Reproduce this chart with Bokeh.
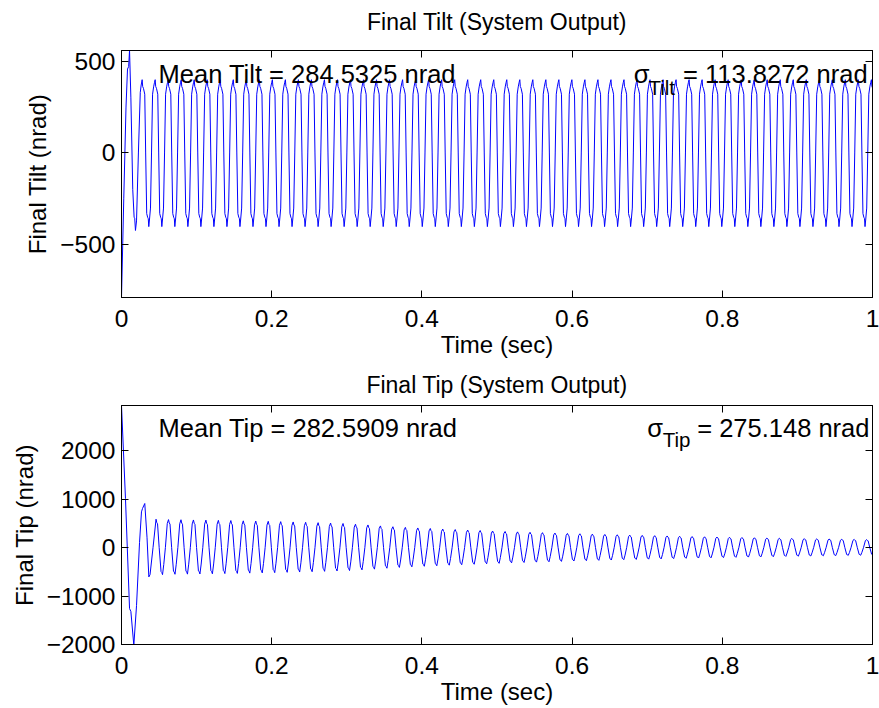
import numpy as np
from bokeh.plotting import figure
from bokeh.layouts import column
from bokeh.models import FixedTicker, CustomJSTickFormatter, LinearAxis, Range1d
from bokeh.core.properties import value
from bokeh.embed import file_html
from bokeh.resources import INLINE

FONT = "Liberation Sans"

# ---------------- data ----------------
x_ticks = [0, 0.2, 0.4, 0.6, 0.8, 1.0]
time_range = (0.0, 1.0)

# Final Tilt
tilt_y_ticks = [-500, 0, 500]
tilt_y_range = (-787, 558)
tilt_transient_t = [0.0, 0.003, 0.006, 0.008, 0.0095, 0.0107, 0.0125, 0.0150, 0.0168, 0.0176, 0.0186, 0.0200, 0.0225, 0.0250, 0.0262]
tilt_transient_v = [-787, -250, 250, 457, 470, 558, 300, -200, -350, -355, -422, -370, 0, 330, 370]
tilt_first_peak = 0.0275
tilt_period = 0.01734
tilt_cycles = 57
tilt_cycle_phase = [0.00, 0.04, 0.10, 0.20, 0.27, 0.35, 0.42, 0.47, 0.51, 0.56, 0.64, 0.72, 0.80, 0.88, 0.95]
tilt_cycle_value = [399, 362, 352, 320, 0, -330, -350, -358, -401, -365, -300, 0, 320, 360, 385]
tilt_mean_text = "Mean Tilt = 284.5325 nrad"
tilt_sigma_sub = "Tilt"
tilt_sigma_rest = "= 113.8272 nrad"

# Final Tip
tip_y_ticks = [-2000, -1000, 0, 1000, 2000]
tip_y_range = (-2000, 2928)
tip_transient_t = [0.0, 0.0053, 0.0107, 0.0125, 0.0164, 0.0200, 0.0240, 0.0266, 0.0280, 0.0310, 0.0340, 0.0364, 0.0380, 0.0420]
tip_transient_v = [2928, 1010, -1258, -1320, -2015, -1200, 100, 734, 805, 907, 200, -606, -560, 0]
tip_first_peak = 0.046
tip_period = 0.0166
tip_cycle_phase = [0.00, 0.06, 0.12, 0.25, 0.40, 0.46, 0.52, 0.62, 0.75, 0.90]
tip_cycle_shape = [1.00, 0.88, 0.84, 0.0, -0.85, -0.88, -0.96, -0.60, 0.0, 0.85]
tip_cycle_peaks = [583, 575, 572, 568, 565, 560, 556, 550, 545, 540,
                   533, 527, 520, 512, 504, 495, 480, 465, 445, 428,
                   415, 403, 392, 380, 370, 360, 350, 340, 330, 322,
                   314, 306, 298, 290, 283, 276, 269, 262, 256, 250,
                   244, 238, 232, 226, 221, 216, 211, 206, 201, 196,
                   191, 187, 183, 179, 175, 171, 167, 163]
tip_mean_text = "Mean Tip = 282.5909 nrad"
tip_sigma_sub = "Tip"
tip_sigma_rest = "= 275.148 nrad"

# annotation anchor positions (data coordinates)
mean_text_x = 0.0493
tilt_text_y = 428
tip_text_y = 2454
tilt_sigma_x = 0.682
tip_sigma_x = 0.700


def build_series(trans_t, trans_v, first_peak, period, phases, shape, amps):
    ts = list(trans_t)
    vs = list(trans_v)
    for k, a in enumerate(amps):
        t0 = first_peak + k * period
        for ph, s in zip(phases, shape):
            ts.append(t0 + ph * period)
            vs.append(a * s)
    return ts, vs


tilt_t, tilt_v = build_series(tilt_transient_t, tilt_transient_v, tilt_first_peak, tilt_period,
                              tilt_cycle_phase, tilt_cycle_value, [1.0] * tilt_cycles)
tip_t, tip_v = build_series(tip_transient_t, tip_transient_v, tip_first_peak, tip_period,
                            tip_cycle_phase, tip_cycle_shape, tip_cycle_peaks)

x_code = "var s = tick.toFixed(1); if (s.endsWith('.0')) { s = s.slice(0, -2); } return s;"
y_code = "return (tick < 0 ? '\\u2212' : '') + Math.abs(tick).toFixed(0);"
empty_code = "return '';"


def style_axis(ax, ticks, fmt_code, labels=True):
    ax.ticker = FixedTicker(ticks=ticks)
    ax.formatter = CustomJSTickFormatter(code=fmt_code)
    ax.major_tick_in = 7
    ax.major_tick_out = 0
    ax.major_tick_line_color = "black"
    ax.minor_tick_line_color = None
    ax.axis_line_color = "black"
    ax.major_label_text_font = FONT
    ax.major_label_text_color = "black"
    if labels:
        ax.major_label_text_font_size = "24.5px"
    else:
        ax.major_label_text_font_size = "1px"
        ax.major_label_standoff = 0


def label_style(ax, size):
    ax.axis_label_text_font = FONT
    ax.axis_label_text_font_style = "normal"
    ax.axis_label_text_color = "black"
    ax.axis_label_text_font_size = size


def make_fig(title, ylabel, y_range, y_ticks, t, v, height, b_top, b_bottom, title_standoff,
             mean_text, mean_y, sig_x, sig_y, sub_text, sub_dx, sub_dy, rest_text, rest_dx):
    p = figure(width=879, height=height, x_range=Range1d(*time_range), y_range=Range1d(*y_range),
               output_backend="svg", toolbar_location=None,
               min_border_left=121, min_border_right=7, min_border_top=b_top, min_border_bottom=b_bottom)
    p.background_fill_color = "white"
    p.border_fill_color = "white"
    p.outline_line_color = "black"
    p.outline_line_width = 1
    p.grid.visible = False

    bottom_ax = p.below[0]
    left_ax = p.left[0]

    style_axis(bottom_ax, x_ticks, x_code)
    bottom_ax.major_label_standoff = 12
    bottom_ax.axis_label = "Time (sec)"
    bottom_ax.axis_label_standoff = 1
    label_style(bottom_ax, "24px")

    style_axis(left_ax, y_ticks, y_code)
    left_ax.major_label_standoff = 6
    left_ax.axis_label = ylabel
    left_ax.axis_label_standoff = 6
    label_style(left_ax, "24px")

    # mirrored top axis (carries the title as its label) and right axis
    top_ax = LinearAxis()
    style_axis(top_ax, x_ticks, empty_code, labels=False)
    top_ax.axis_label = title
    top_ax.axis_label_standoff = title_standoff
    label_style(top_ax, "23px")
    p.add_layout(top_ax, "above")
    right_ax = LinearAxis()
    style_axis(right_ax, y_ticks, empty_code, labels=False)
    p.add_layout(right_ax, "right")

    p.line(t, v, line_color="#0000ff", line_width=1)

    common = dict(text_font=value(FONT), text_color="black", text_baseline="alphabetic", text_align="left")
    p.text(x=[mean_text_x], y=[mean_y], text=[mean_text], text_font_size="25.5px", **common)
    p.text(x=[sig_x], y=[sig_y], text=["\u03c3"], text_font_size="25.5px", **common)
    p.text(x=[sig_x], y=[sig_y], text=[sub_text], text_font_size="20.5px",
           x_offset=sub_dx, y_offset=sub_dy, **common)
    p.text(x=[sig_x], y=[sig_y], text=[rest_text], text_font_size="25.5px", x_offset=rest_dx, **common)
    return p


p1 = make_fig("Final Tilt (System Output)", "Final Tilt (nrad)", tilt_y_range, tilt_y_ticks,
              tilt_t, tilt_v, 360, 50, 62, 16, tilt_mean_text, tilt_text_y, tilt_sigma_x, tilt_text_y,
              tilt_sigma_sub, 14.7, 13.3, tilt_sigma_rest, 49.4)
p2 = make_fig("Final Tip (System Output)", "Final Tip (nrad)", tip_y_range, tip_y_ticks,
              tip_t, tip_v, 348, 45, 64, 8, tip_mean_text, tip_text_y, tip_sigma_x, tip_text_y,
              tip_sigma_sub, 15.6, 11.3, tip_sigma_rest, 50.0)

layout = column(p1, p2)
open("out.html", "w").write(file_html(layout, INLINE))
